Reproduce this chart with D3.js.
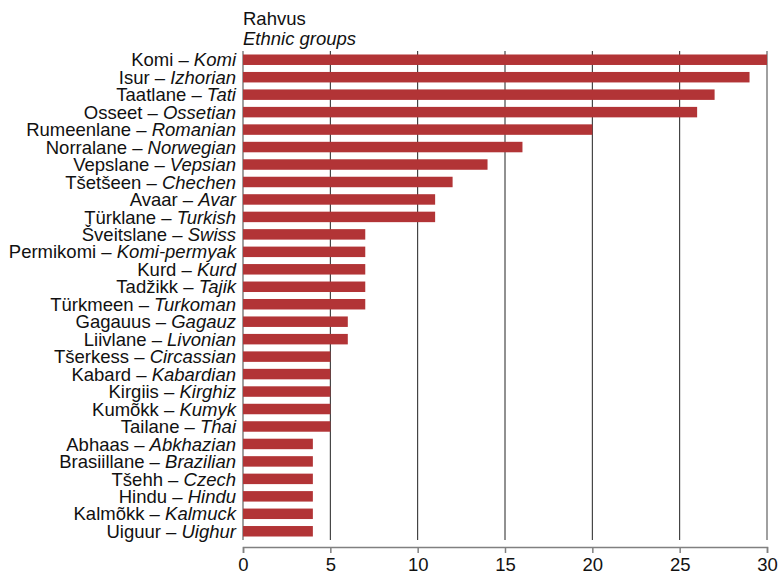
<!DOCTYPE html>
<html><head><meta charset="utf-8">
<script src="https://cdn.jsdelivr.net/npm/d3@7"></script>
<style>body{margin:0;background:#fff}text{font-family:"Liberation Sans",Arial,sans-serif}</style>
</head><body><svg id="c" width="779" height="574"></svg>
<script>
const estNames = ["Komi","Isur","Taatlane","Osseet","Rumeenlane","Norralane","Vepslane","Tšetšeen","Avaar","Türklane","Šveitslane","Permikomi","Kurd","Tadžikk","Türkmeen","Gagauus","Liivlane","Tšerkess","Kabard","Kirgiis","Kumõkk","Tailane","Abhaas","Brasiillane","Tšehh","Hindu","Kalmõkk","Uiguur"];
const engNames = ["Komi","Izhorian","Tati","Ossetian","Romanian","Norwegian","Vepsian","Chechen","Avar","Turkish","Swiss","Komi-permyak","Kurd","Tajik","Turkoman","Gagauz","Livonian","Circassian","Kabardian","Kirghiz","Kumyk","Thai","Abkhazian","Brazilian","Czech","Hindu","Kalmuck","Uighur"];
const values = [30,29,27,26,20,16,14,12,11,11,7,7,7,7,7,6,6,5,5,5,5,5,4,4,4,4,4,4];
const xTicks = [0,5,10,15,20,25,30];

(function(){
const svg = d3.select("#c");
const mL = 243, mR = 767, mT = 51, mB = 540;
const FS = 18.5;
const x = d3.scaleLinear().domain([0,30]).range([mL,mR]);
const y = d3.scaleBand().domain(d3.range(values.length)).range([mT,mB]).paddingInner(0.4).paddingOuter(0.2);

svg.append("g").selectAll("line").data(xTicks.slice(1)).join("line")
  .attr("x1",d=>x(d)).attr("x2",d=>x(d)).attr("y1",mT).attr("y2",mB)
  .attr("stroke",d=>d===30?"#808080":"#222").attr("stroke-width",d=>d===30?1.5:1);
svg.append("line").attr("x1",mL).attr("x2",mL).attr("y1",mT).attr("y2",mB).attr("stroke","#808080").attr("stroke-width",1.5);

svg.append("g").selectAll("rect").data(values).join("rect")
  .attr("x",x(0)).attr("y",(d,i)=>y(i)).attr("width",d=>x(d)-x(0)).attr("height",y.bandwidth())
  .attr("fill","#b23436");

const lab = svg.append("g").selectAll("text").data(values).join("text")
  .attr("x",mL-7).attr("y",(d,i)=>y(i)+y.bandwidth()/2).attr("dy","0.36em")
  .attr("text-anchor","end").attr("font-size",FS).attr("fill","#111");
lab.append("tspan").text((d,i)=>estNames[i]+" – ");
lab.append("tspan").attr("font-style","italic").text((d,i)=>engNames[i]);

const ax = svg.append("g").attr("transform","translate(0,547)")
  .call(d3.axisBottom(x).tickValues(xTicks).tickSize(6).tickPadding(5));
ax.select(".domain").attr("stroke","#808080").attr("stroke-width",1.5);
ax.selectAll(".tick line").attr("stroke","#808080").attr("stroke-width",1.5);
ax.selectAll("text").attr("font-size",FS).attr("fill","#111").attr("font-family","Liberation Sans, Arial, sans-serif");

svg.append("text").attr("x",mL).attr("y",25).attr("font-size",FS).attr("fill","#111").text("Rahvus");
svg.append("text").attr("x",mL).attr("y",45).attr("font-size",FS).attr("font-style","italic").attr("fill","#111").text("Ethnic groups");
})();
</script></body></html>
